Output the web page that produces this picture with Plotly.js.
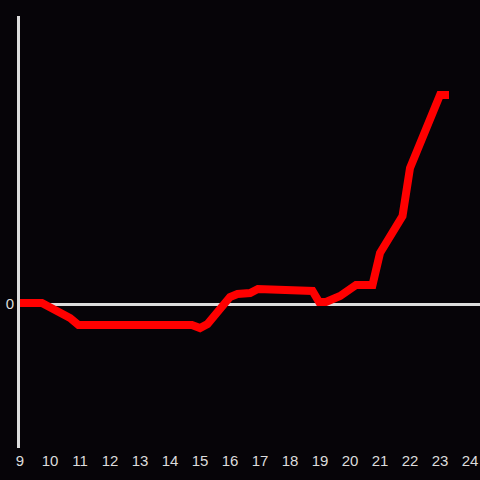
<!DOCTYPE html>
<html>
<head>
<meta charset="utf-8">
<script src="https://cdn.plot.ly/plotly-3.0.1.min.js"></script>
<style>html,body{margin:0;padding:0;background:#060408;}#chart{width:480px;height:480px;}</style>
</head>
<body>
<div id="chart"></div>
<script>
const hours = [9, 9.73, 10.67, 10.95, 14.73, 15.0, 15.25, 16.0, 16.25, 16.67, 16.93, 18.27, 18.75, 18.97, 19.2, 19.67, 20.2, 20.75, 21.0, 21.75, 22.0, 23.0, 23.3];
const values = [0.1, 0.1, -1.4, -2.1, -2.1, -2.4, -2.0, 0.7, 1.0, 1.1, 1.5, 1.5, 1.3, 0.2, 0.2, 0.8, 1.9, 1.9, 5.1, 8.8, 13.6, 20.9, 20.9];
const xTicks = [9,10,11,12,13,14,15,16,17,18,19,20,21,22,23,24];

const trace = {
  x: hours, y: values, type: 'scatter', mode: 'lines',
  line: {color: '#ff0000', width: 8}, hoverinfo: 'none'
};
const layout = {
  width: 480, height: 480,
  paper_bgcolor: '#060408', plot_bgcolor: '#060408',
  margin: {l: 20, r: 0, t: 16, b: 32},
  showlegend: false,
  font: {family: 'Liberation Sans, Arial, sans-serif', size: 15, color: '#dcdcdc'},
  xaxis: {
    range: [9, 24.333], tickvals: xTicks, ticktext: xTicks.map(String),
    showgrid: false, zeroline: false, showline: false, ticks: '',
    ticklabelstandoff: 2,
    tickfont: {size: 15, color: '#dcdcdc'}
  },
  yaxis: {
    range: [-14.4, 28.8], tickvals: [0], ticktext: ['0'],
    showgrid: false, zeroline: true, zerolinecolor: '#dcdcdc', zerolinewidth: 3,
    showline: true, linecolor: '#dcdcdc', linewidth: 3, ticks: '',
    tickfont: {size: 15, color: '#dcdcdc'}
  }
};
Plotly.newPlot('chart', [trace], layout, {displayModeBar: false, staticPlot: true});
</script>
</body>
</html>
